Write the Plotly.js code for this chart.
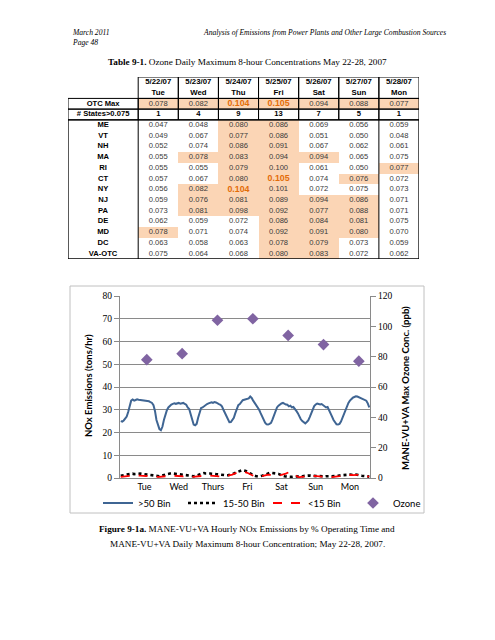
<!DOCTYPE html>
<html><head><meta charset="utf-8">
<script src="https://cdn.plot.ly/plotly-3.0.1.min.js"></script>
<style>html,body{margin:0;padding:0;background:#fff}#c{width:495px;height:640px}</style>
</head><body><div id="c"></div>
<script>
// ---------------- Table 9-1 data ----------------
const dates = ['5/22/07','5/23/07','5/24/07','5/25/07','5/26/07','5/27/07','5/28/07'];
const dayNames = ['Tue','Wed','Thu','Fri','Sat','Sun','Mon'];
const otcMax = [0.078,0.082,0.104,0.105,0.094,0.088,0.077];
const statesOver = [1,4,9,13,7,5,1];
const stateNames = ['ME','VT','NH','MA','RI','CT','NY','NJ','PA','DE','MD','DC','VA-OTC'];
const ME  = [0.047,0.048,0.080,0.086,0.069,0.056,0.059];
const VT  = [0.049,0.067,0.077,0.086,0.051,0.050,0.048];
const NH  = [0.052,0.074,0.086,0.091,0.067,0.062,0.061];
const MA  = [0.055,0.078,0.083,0.094,0.094,0.065,0.075];
const RI  = [0.055,0.055,0.079,0.100,0.061,0.050,0.077];
const CT  = [0.057,0.067,0.080,0.105,0.074,0.076,0.072];
const NY  = [0.056,0.082,0.104,0.101,0.072,0.075,0.073];
const NJ  = [0.059,0.076,0.081,0.089,0.094,0.086,0.071];
const PA  = [0.073,0.081,0.098,0.092,0.077,0.088,0.071];
const DE  = [0.062,0.059,0.072,0.086,0.084,0.081,0.075];
const MD  = [0.078,0.071,0.074,0.092,0.091,0.080,0.070];
const DC  = [0.063,0.058,0.063,0.078,0.079,0.073,0.059];
const VAOTC = [0.075,0.064,0.068,0.080,0.083,0.072,0.062];
const stateValues = [ME,VT,NH,MA,RI,CT,NY,NJ,PA,DE,MD,DC,VAOTC];
const standard = 0.075;

// ---------------- Figure 9-1a data ----------------
const chartDays = ['Tue','Wed','Thurs','Fri','Sat','Sun','Mon'];
const nox50 = [
 25.0,24.8,25.3,26.0,27.0,29.0,32.0,34.0,34.5,34.0,34.3,34.6,34.4,34.3,34.2,34.0,34.1,33.8,33.6,33.7,33.3,33.0,32.0,29.5,
 25.5,23.0,21.5,21.0,22.5,25.5,28.0,29.8,31.0,31.8,32.3,32.6,32.8,32.6,32.9,33.0,32.7,32.8,33.0,32.6,32.2,31.0,30.3,28.0,
 25.5,23.5,23.2,23.8,26.5,29.0,30.8,31.0,31.5,32.3,32.5,32.8,33.0,33.3,33.0,33.4,33.2,33.0,32.5,32.2,31.5,30.0,28.5,27.0,
 25.5,24.5,24.6,25.5,26.5,28.5,30.5,32.0,32.5,33.5,34.2,34.4,34.5,34.6,35.0,35.8,35.2,34.0,33.0,32.2,31.0,30.0,28.5,27.0,
 25.5,24.3,23.6,23.5,23.8,24.2,25.8,27.5,29.5,31.0,31.8,32.4,32.8,33.0,32.6,32.3,32.2,31.5,31.8,31.0,31.2,30.5,29.5,28.5,
 27.0,25.8,25.0,24.3,24.0,24.6,25.3,26.8,28.6,30.2,31.6,32.3,32.7,32.5,32.3,32.5,32.0,31.8,31.0,31.2,30.0,28.6,27.0,25.5,
 24.5,23.6,23.5,23.8,24.8,26.5,28.0,30.0,31.5,33.0,34.0,34.8,35.3,35.6,35.9,35.8,35.5,35.2,35.0,34.8,34.5,34.0,32.8,31.0];
const nox1550 = [
 1.0,1.2,1.4,1.3,1.5,1.6,1.8,2.0,1.9,1.7,1.8,2.0,2.1,1.9,1.8,1.7,1.6,1.5,1.6,1.4,1.3,1.2,1.1,1.0,
 0.9,0.8,0.8,0.9,1.0,1.2,1.5,1.7,1.9,2.0,2.1,2.0,1.9,1.8,1.9,1.7,1.6,1.5,1.4,1.5,1.3,1.2,1.0,0.9,
 0.8,0.8,0.9,1.0,1.3,1.6,1.9,2.1,2.2,2.0,2.1,2.2,2.0,1.9,2.0,1.8,1.7,1.6,1.5,1.3,1.2,1.1,1.0,1.2,
 1.2,1.3,1.5,1.8,2.0,2.3,2.6,2.9,3.1,3.3,3.4,3.3,3.1,2.7,2.3,1.9,1.5,1.2,1.0,0.8,0.7,0.7,0.8,1.0,
 1.3,1.6,1.9,2.1,2.2,2.3,2.2,2.3,2.1,2.0,1.8,1.5,1.2,1.0,0.8,0.7,0.6,0.6,0.5,0.5,0.6,0.6,0.5,0.5,
 0.6,0.7,0.8,0.9,1.0,0.9,1.0,1.1,1.0,0.9,0.8,0.7,0.8,0.9,0.8,0.7,0.6,0.7,0.8,0.9,0.8,0.7,0.7,0.8,
 0.8,0.9,1.0,1.1,1.2,1.3,1.4,1.5,1.4,1.6,1.5,1.4,1.3,1.4,1.5,1.3,1.2,1.1,1.0,0.9,0.8,0.8,0.7,0.6];
const nox15 = [
 0.5,0.6,0.7,0.8,0.9,1.0,1.1,1.2,1.1,1.0,1.1,1.2,1.1,1.0,0.9,1.0,0.9,0.8,0.9,0.8,0.7,0.7,0.6,0.6,
 0.5,0.5,0.5,0.6,0.7,0.8,0.9,1.0,1.1,1.0,1.0,1.1,1.0,0.9,1.0,0.9,0.8,0.8,0.7,0.8,0.7,0.6,0.6,0.5,
 0.5,0.5,0.6,0.7,0.8,0.9,1.0,1.1,1.1,1.0,1.1,1.2,1.1,1.0,1.0,0.9,0.9,0.8,0.8,0.7,0.8,0.9,1.0,1.3,
 1.0,1.1,1.3,1.5,1.8,2.1,2.4,2.7,2.9,3.0,2.9,2.8,2.6,2.3,2.0,1.6,1.3,1.0,0.8,0.6,0.5,0.5,0.6,0.8,
 1.0,1.2,1.4,1.5,1.4,1.3,1.4,1.5,1.4,1.3,1.4,1.3,1.4,1.5,1.6,1.9,2.3,2.6,2.7,2.5,2.0,1.4,0.8,0.5,
 0.4,0.4,0.5,0.5,0.6,0.6,0.7,0.8,0.7,0.8,0.9,0.8,0.7,0.8,0.7,0.6,0.7,0.6,0.5,0.5,0.4,0.4,0.4,0.5,
 0.5,0.6,0.7,0.8,0.9,1.0,1.1,1.2,1.3,1.4,1.5,1.4,1.3,1.4,1.5,1.4,1.3,1.2,1.1,1.0,0.9,0.8,0.7,0.6];
const ozonePpb = [78,82,104,105,94,88,77];

// ---------------- helpers (layout only) ----------------
const W = 495, H = 640;
const fx = x => x / W, fy = y => 1 - y / H;
const hours = nox50.map((_, i) => i);
const ozoneX = ozonePpb.map((_, i) => 17.5 + 23.75 * i);
const dayTickX = chartDays.map((_, i) => 16 + 23 * i);

// table grid geometry (x3 units ~ px)
const LABW = 70, COLW = 40, NC = dates.length;
const colCenter = c => LABW + COLW * c + COLW / 2;
const rowLabels = ['OTC\u00a0Max', '#\u00a0States&gt;0.075'].concat(stateNames);
const rowVals = [otcMax, statesOver].concat(stateValues);
const NR = rowVals.length;

// heatmap (cell fills)
const colEdges = [];
for (let c = 0; c <= NC; c++) colEdges.push(LABW + COLW * c);
const zFill = rowVals.map((row, r) => row.map(v => (r === 1 ? 0 : (v > standard ? 1 : 0))));

// column maxima among states for bold emphasis
const colMax = dates.map((_, c) => Math.max(...stateValues.map(s => s[c])));

const tx = [], ty = [], tt = [], tc = [], ts = [];
function addT(x, y, t, col, size) { tx.push(x); ty.push(y); tt.push(t); tc.push(col); ts.push(size); }
dates.forEach((d, c) => { addT(colCenter(c), -2, '<b>' + d + '</b>', '#000', 7.8); addT(colCenter(c), -1, '<b>' + dayNames[c] + '</b>', '#000', 7.8); });
rowVals.forEach((row, r) => {
  addT(LABW / 2, r, '<b>' + rowLabels[r] + '</b>', '#000', 7.6);
  row.forEach((v, c) => {
    if (r === 1) { addT(colCenter(c), r, '<b>' + v + '</b>', '#000', 7.6); return; }
    const emph = v >= 0.1 && v === colMax[c];
    if (emph) addT(colCenter(c), r, '<b>' + v.toFixed(3) + '</b>', '#e36c09', 8.8);
    else addT(colCenter(c), r, v.toFixed(3), '#3a3a3a', 7.6);
  });
});

// table borders (shapes in table-grid coordinates)
const shapes = [];
const ln = {color: '#000', width: 1};
function rect(x0, y0, x1, y1, line) { shapes.push({type: 'rect', xref: 'x3', yref: 'y3', x0, y0, x1, y1, line: line || ln, layer: 'above'}); }
function vline(x, y0, y1) { shapes.push({type: 'line', xref: 'x3', yref: 'y3', x0: x, x1: x, y0, y1, line: ln, layer: 'above'}); }
for (let c = 0; c < NC; c++) rect(LABW + COLW * c, -2.5, LABW + COLW * (c + 1), -0.5);
for (let r = 0; r < 2; r++) {
  rect(0, r - 0.5, LABW, r + 0.5);
  for (let c = 0; c < NC; c++) rect(LABW + COLW * c, r - 0.5, LABW + COLW * (c + 1), r + 0.5);
}
rect(0, 1.5, LABW + COLW * NC, NR - 0.5, {color: '#000', width: 1.3});
vline(LABW, 1.5, NR - 0.5);
vline(LABW + COLW * (NC - 1), 1.5, NR - 0.5);
// chart frame
shapes.push({type: 'rect', xref: 'paper', yref: 'paper', x0: fx(70), x1: fx(424), y0: fy(513), y1: fy(286), line: {color: '#c0c0c0', width: 1}});

const serif = 'Liberation Serif, Times New Roman, serif';
const sans = 'Lato, Liberation Sans, Arial, sans-serif';
const arial = 'Liberation Sans, Arial, sans-serif';

const traces = [
  {type: 'heatmap', x: colEdges, y: rowVals.map((_, r) => r), z: zFill, xaxis: 'x3', yaxis: 'y3',
   colorscale: [[0, '#ffffff'], [1, '#fbd5b5']], zmin: 0, zmax: 1, showscale: false, hoverinfo: 'skip', showlegend: false},
  {type: 'scatter', mode: 'text', x: tx, y: ty, text: tt, xaxis: 'x3', yaxis: 'y3', cliponaxis: false,
   textposition: 'middle center', textfont: {family: arial, size: ts, color: tc}, hoverinfo: 'skip', showlegend: false},
  {type: 'scatter', mode: 'lines', name: '&gt;50 Bin', x: hours, y: nox50, line: {color: '#3f6593', width: 2}},
  {type: 'scatter', mode: 'lines', name: '15-50 Bin', x: hours, y: nox1550, line: {color: '#000', width: 2.6, dash: 'dot'}},
  {type: 'scatter', mode: 'lines', name: '&lt;15 Bin', x: hours, y: nox15, line: {color: '#ff0000', width: 1.8, dash: 'dash'}},
  {type: 'scatter', mode: 'markers', name: 'Ozone', x: ozoneX, y: ozonePpb, yaxis: 'y2',
   marker: {symbol: 'diamond', size: 9, color: '#8064a2'}}
];

const gridC = '#8a8a8a';
const layout = {
  width: W, height: H, margin: {l: 0, r: 0, t: 0, b: 0}, paper_bgcolor: '#fff', plot_bgcolor: 'rgba(0,0,0,0)',
  hovermode: false, showlegend: true,
  xaxis: {domain: [fx(120), fx(370)], range: [-0.5, 167.5], tickmode: 'array', tickvals: dayTickX, ticktext: chartDays,
          showgrid: false, zeroline: false, showline: true, linecolor: gridC, ticks: '', tickfont: {family: sans, size: 9, color: '#000'}, anchor: 'y'},
  yaxis: {domain: [fy(478), fy(296)], range: [0, 80], dtick: 10, showgrid: true, gridcolor: gridC, gridwidth: 1, zeroline: false,
          showline: true, linecolor: gridC, ticks: 'outside', ticklen: 5, tickcolor: gridC, tickfont: {family: serif, size: 9.5, color: '#000'}, anchor: 'x'},
  yaxis2: {overlaying: 'y', side: 'right', anchor: 'x', range: [0, 120], dtick: 20, showgrid: false, zeroline: false,
           showline: true, linecolor: gridC, ticks: 'outside', ticklen: 5, tickcolor: gridC, tickfont: {family: serif, size: 9.5, color: '#000'}},
  xaxis3: {domain: [fx(68), fx(419)], range: [0, LABW + COLW * NC], visible: false, fixedrange: true, anchor: 'y3'},
  yaxis3: {domain: [fy(259), fy(77)], range: [NR - 0.5, -2.5], visible: false, fixedrange: true, anchor: 'x3'},
  legend: {orientation: 'h', x: fx(268), xanchor: 'center', y: fy(503), yanchor: 'middle', font: {family: sans, size: 9.5, color: '#000'},
           bgcolor: 'rgba(0,0,0,0)', itemwidth: 30, tracegroupgap: 0, entrywidthmode: 'pixels', entrywidth: 40},
  shapes: shapes,
  annotations: [
    {text: '<i>March 2011</i>', x: fx(70), y: fy(33), xanchor: 'left', yanchor: 'middle'},
    {text: '<i>Page 48</i>', x: fx(70), y: fy(43), xanchor: 'left', yanchor: 'middle'},
    {text: '<i>Analysis of Emissions from Power Plants and Other Large Combustion Sources</i>', x: fx(448), y: fy(33), xanchor: 'right', yanchor: 'middle'},
    {text: '<b>Table 9-1.</b> Ozone Daily Maximum 8-hour Concentrations May 22-28, 2007', x: fx(247), y: fy(62), xanchor: 'center', yanchor: 'middle', font: {family: serif, size: 9.2, color: '#000'}},
    {text: '<b>NOx Emissions (tons/hr)</b>', x: fx(88), y: fy(386), textangle: -90, xanchor: 'center', yanchor: 'middle', font: {family: sans, size: 9.5, color: '#000'}},
    {text: '<b>MANE-VU+VA Max Ozone Conc. (ppb)</b>', x: fx(405), y: fy(388), textangle: -90, xanchor: 'center', yanchor: 'middle', font: {family: sans, size: 9.5, color: '#000'}},
    {text: '<b>Figure 9-1a.</b> MANE-VU+VA Hourly NOx Emissions by % Operating Time and', x: fx(247), y: fy(529), xanchor: 'center', yanchor: 'middle', font: {family: serif, size: 9.2, color: '#000'}},
    {text: 'MANE-VU+VA Daily Maximum 8-hour Concentration; May 22-28, 2007.', x: fx(247), y: fy(544), xanchor: 'center', yanchor: 'middle', font: {family: serif, size: 9.2, color: '#000'}}
  ].map(a => Object.assign({xref: 'paper', yref: 'paper', showarrow: false, font: {family: serif, size: 7.6, color: '#000'}}, a))
};

Plotly.newPlot('c', traces, layout, {staticPlot: true, displayModeBar: false});
</script>
</body></html>
